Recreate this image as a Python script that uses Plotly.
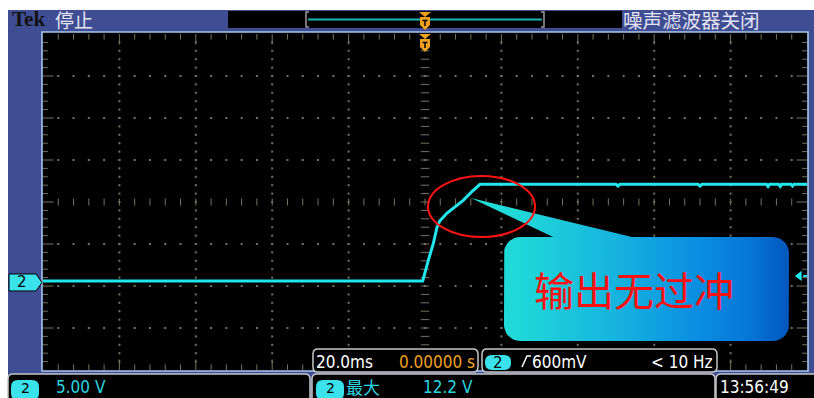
import numpy as np
import plotly.graph_objects as go

W, H = 814, 398

# ---- channel 2 record: time in ms, level in V ----
time_ms = [-100.0, -0.6, 0.9, 2.2, 3.1, 3.8, 5.7, 7.9, 10.0, 12.2, 14.4,
           50.0, 50.5, 51.0, 71.5, 72.0, 72.5, 89.4, 89.8, 90.2,
           92.6, 93.0, 93.4, 95.8, 96.2, 96.6, 100.0]
volts_ch2 = [0.0, 0.0, 2.5, 4.5, 6.3, 7.1, 8.05, 8.85, 9.6, 10.6, 11.5,
             11.5, 11.3, 11.5, 11.5, 11.3, 11.5, 11.5, 11.25, 11.5,
             11.5, 11.25, 11.5, 11.5, 11.3, 11.5, 11.5]

# ---- scope settings ----
ms_per_div = 20.0
volts_per_div = 5.0
n_xdiv, n_ydiv = 10, 8
minor_per_div = 5
ground_div_below_center = 1.88
trigger_time_ms = 0.0
trigger_level_v = 0.6

# ---- readouts ----
status_label = "停止"
filter_label = "噪声滤波器关闭"
timebase_label = "20.0ms"
trig_pos_label = "0.00000 s"
trig_level_label = "600mV"
trig_freq_label = "< 10 Hz"
ch_label = "2"
ch2_scale_label = "5.00 V"
meas_name = "最大"
meas_value = "12.2 V"
clock_label = "13:56:49"
callout_label = "输出无过冲"

# ---- styling ----
BLUE = "#3f4d92"
FRAME = "#a6c6ee"
GRID = "#74745e"
TRACE = "#22e6ee"
CYAN_TXT = "#2ad6e0"
BADGE = "#3ae2ec"
ORANGE = "#f0a020"
PANEL_LINE = "#c6c6c6"
NARROW = "Liberation Sans Narrow, DejaVu Sans Condensed, Arial Narrow, sans-serif"
CJK = "Noto Sans CJK SC"

# screen rectangle in pixels
SX0, SX1, SY0, SY1 = 43, 807, 34, 370

x_lo = -ms_per_div * n_xdiv / 2
x_hi = -x_lo
y_center = ground_div_below_center * volts_per_div
y_lo = y_center - volts_per_div * n_ydiv / 2
y_hi = y_center + volts_per_div * n_ydiv / 2


def t_to_px(t):
    return SX0 + (t - x_lo) / (x_hi - x_lo) * (SX1 - SX0)


def v_to_py(v):
    return SY0 + (y_hi - v) / (y_hi - y_lo) * (SY1 - SY0)


def px(x):
    return x / W


def py(y):
    return 1 - y / H


shapes = []
annotations = []


def P(x, y):
    return f"{px(x):.5f},{py(y):.5f}"


def add_rect(x0, y0, x1, y1, fill, line=None, lw=0, layer="below"):
    shapes.append(dict(type="rect", xref="paper", yref="paper",
                       x0=px(x0), x1=px(x1), y0=py(y1), y1=py(y0),
                       fillcolor=fill, layer=layer,
                       line=dict(color=line or "rgba(0,0,0,0)", width=lw)))


def rr_path(x0, y0, x1, y1, r):
    return (f"M{P(x0 + r, y0)} L{P(x1 - r, y0)} Q{P(x1, y0)} {P(x1, y0 + r)} "
            f"L{P(x1, y1 - r)} Q{P(x1, y1)} {P(x1 - r, y1)} L{P(x0 + r, y1)} "
            f"Q{P(x0, y1)} {P(x0, y1 - r)} L{P(x0, y0 + r)} Q{P(x0, y0)} {P(x0 + r, y0)} Z")


def poly_path(pts, close=True):
    s = "M" + " L".join(P(x, y) for x, y in pts)
    return s + (" Z" if close else "")


def add_path(path, fill="rgba(0,0,0,0)", line=None, lw=0, layer="below"):
    shapes.append(dict(type="path", xref="paper", yref="paper", path=path,
                       fillcolor=fill, layer=layer,
                       line=dict(color=line or "rgba(0,0,0,0)", width=lw)))


def label(x, y, text, size, color, family=NARROW, anchor="left", **kw):
    annotations.append(dict(x=x, y=y, xref="x2", yref="y2", text=text,
                            showarrow=False, xanchor=anchor, yanchor="middle",
                            font=dict(size=size, color=color, family=family), **kw))


# ---- instrument frame ----
add_rect(8, 10, 814, 398, BLUE)
add_rect(228, 11, 622, 28, "black")
add_rect(SX0 - 1, SY0 - 2, SX1 + 1, SY1 + 1, "black", FRAME, 1.6)

# record overview bar
add_path(poly_path([(309, 12), (306, 12), (306, 27), (309, 27)], close=False),
         line="#9a9aa6", lw=1.5)
add_path(poly_path([(541, 12), (544, 12), (544, 27), (541, 27)], close=False),
         line="#9a9aa6", lw=1.5)
add_path(poly_path([(308, 19.5), (542, 19.5)], close=False), line="#1fb4b8", lw=2)

# ---- bottom readout panels ----
add_rect(8, 372, 814, 398, BLUE)
add_path(rr_path(8, 374, 310, 406, 5), "black", PANEL_LINE, 1.5, layer="above")
add_path(rr_path(312, 374, 715, 406, 5), "black", PANEL_LINE, 1.5, layer="above")
add_path(rr_path(716, 374, 822, 406, 5), "black", PANEL_LINE, 1.5, layer="above")
add_path(rr_path(313, 349, 478, 372, 5), "black", PANEL_LINE, 1.5, layer="above")
add_path(rr_path(482, 349, 717, 372, 5), "black", PANEL_LINE, 1.5, layer="above")

for bx0, by0, bx1, by1 in [(485, 355, 511, 370), (11, 380, 39, 400), (316, 380, 344, 400)]:
    add_path(rr_path(bx0, by0, bx1, by1, 7), BADGE, layer="above")

# rising-edge trigger glyph
add_path(poly_path([(522, 367), (527, 356), (531, 356)], close=False),
         line="white", lw=1.5, layer="above")

# ---- trigger position markers (top) ----
tx = t_to_px(trigger_time_ms)
for top in (12, 34):
    add_path(poly_path([(tx - 6, top), (tx + 6, top), (tx, top + 5)]), ORANGE, layer="above")
    add_path(poly_path([(tx - 5, top + 5), (tx + 5, top + 5), (tx + 5, top + 13),
                        (tx, top + 18), (tx - 5, top + 13)]), ORANGE, layer="above")
    add_path(poly_path([(tx - 2.5, top + 8.5), (tx + 2.5, top + 8.5)], close=False),
             line="black", lw=1.5, layer="above")
    add_path(poly_path([(tx, top + 8.5), (tx, top + 14)], close=False),
             line="black", lw=1.5, layer="above")

# ---- channel 2 ground marker (left) ----
gy = v_to_py(0.0) + 1.5
add_path(poly_path([(9, gy - 8.5), (36, gy - 8.5), (42, gy), (36, gy + 8.5), (9, gy + 8.5)]),
         BADGE, "black", 1, layer="above")
label(22, gy, ch_label, 15, "black", family="DejaVu Sans", anchor="center")

# ---- callout ellipse ----
shapes.append(dict(type="circle", xref="paper", yref="paper", layer="above",
                   x0=px(428), x1=px(535), y0=py(237), y1=py(176),
                   line=dict(color="#ff1414", width=2)))

# ---- texts ----
label(10, 19, "<b>Tek</b>", 21, "#111111", family="Liberation Serif")
label(53, 19, status_label, 19, "#e4e4f4", family=CJK)
label(621, 19, filter_label, 19.5, "#e4e4f4", family=CJK)
label(314, 362, timebase_label, 17, "white")
label(477, 362, trig_pos_label, 17, ORANGE, anchor="right")
label(498, 363, ch_label, 15, "black", family="DejaVu Sans", anchor="center")
label(530, 362, trig_level_label, 17, "white")
label(715, 362, trig_freq_label, 17, "white", anchor="right")
label(25, 388, ch_label, 14, "black", family="DejaVu Sans", anchor="center")
label(54, 387, ch2_scale_label, 17, CYAN_TXT)
label(330, 388, ch_label, 14, "black", family="DejaVu Sans", anchor="center")
label(344, 386, meas_name, 17, CYAN_TXT, family=CJK)
label(421, 387, meas_value, 17, CYAN_TXT)
label(718, 387, clock_label, 17, "white")
label(634, 289, callout_label, 40, "#ff1010", family=CJK, anchor="center")

fig = go.Figure()

# ---- graticule ----
dx = ms_per_div / minor_per_div
dy = volts_per_div / minor_per_div
ix = np.arange(1, n_xdiv * minor_per_div)
iy = np.arange(1, n_ydiv * minor_per_div)
minor_x = x_lo + dx * ix
minor_y = y_lo + dy * iy
cx_div, cy_div = n_xdiv // 2, n_ydiv // 2

dots_x, dots_y = [], []
for k in range(1, n_ydiv):
    if k == cy_div:
        continue
    yv = y_lo + volts_per_div * k
    dots_x += list(minor_x)
    dots_y += [yv] * len(minor_x)
for k in range(1, n_xdiv):
    if k == cx_div:
        continue
    xv = x_lo + ms_per_div * k
    dots_x += [xv] * len(minor_y)
    dots_y += list(minor_y)
fig.add_trace(go.Scatter(x=dots_x, y=dots_y, mode="markers", hoverinfo="skip",
                         marker=dict(symbol="square", size=2, color=GRID,
                                     line=dict(width=0))))


def tick_trace(xs, ys, symbol, size):
    fig.add_trace(go.Scatter(x=xs, y=ys, mode="markers", hoverinfo="skip",
                             marker=dict(symbol=symbol, size=size,
                                         line=dict(width=1, color=GRID))))


minor_only_x = minor_x[ix % minor_per_div != 0]
major_x = minor_x[ix % minor_per_div == 0]
minor_only_y = minor_y[iy % minor_per_div != 0]
major_y = minor_y[iy % minor_per_div == 0]

# edge ticks
for yv in (y_lo, y_hi):
    tick_trace(minor_only_x, [yv] * len(minor_only_x), "line-ns", 8)
    tick_trace(major_x, [yv] * len(major_x), "line-ns", 15)
for xv in (x_lo, x_hi):
    tick_trace([xv] * len(minor_only_y), minor_only_y, "line-ew", 7)
    tick_trace([xv] * len(major_y), major_y, "line-ew", 15)
# centre cross ticks
tick_trace(minor_x, [y_center] * len(minor_x), "line-ns", 5)
tick_trace([0.0] * len(minor_y), minor_y, "line-ew", 6)

# ---- waveform ----
fig.add_trace(go.Scatter(x=time_ms, y=volts_ch2, mode="lines", hoverinfo="skip",
                         line=dict(color=TRACE, width=3)))

# trigger level arrow on the right edge
fig.add_trace(go.Scatter(x=[x_hi - 1.0, x_hi], y=[trigger_level_v, trigger_level_v],
                         mode="lines", hoverinfo="skip",
                         line=dict(color=TRACE, width=2)))
fig.add_trace(go.Scatter(x=[x_hi - 2.0], y=[trigger_level_v], mode="markers",
                         hoverinfo="skip",
                         marker=dict(symbol="triangle-left", size=9, color=TRACE)))

# ---- callout bubble (pixel axes) ----
bx0, by0, bx1, by1, br = 504, 237, 789, 341, 16
tip = (471, 198)
wedge = (553, 632)


def arc(cx, cy, a0, a1, n=10):
    a = np.radians(np.linspace(a0, a1, n))
    return list(zip(cx + br * np.cos(a), cy + br * np.sin(a)))


pts = [(bx0 + br, by0), (wedge[0], by0), tip, (wedge[1], by0)]
pts += arc(bx1 - br, by0 + br, -90, 0)
pts += arc(bx1 - br, by1 - br, 0, 90)
pts += arc(bx0 + br, by1 - br, 90, 180)
pts += arc(bx0 + br, by0 + br, 180, 270)
cxs, cys = zip(*pts)
fig.add_trace(go.Scatter(
    x=list(cxs), y=list(cys), xaxis="x2", yaxis="y2", mode="lines",
    fill="toself", hoverinfo="skip", line=dict(width=0, color="rgba(0,0,0,0)"),
    fillgradient=dict(type="horizontal",
                      colorscale=[[0.0, "#22e0d8"], [0.15, "#20d8d8"],
                                  [0.45, "#16b4de"], [0.7, "#0a90e2"],
                                  [0.88, "#0676d6"], [1.0, "#0356bc"]])))

fig.update_layout(
    width=W, height=H, margin=dict(l=0, r=0, t=0, b=0),
    paper_bgcolor="white", plot_bgcolor="rgba(0,0,0,0)",
    showlegend=False,
    xaxis=dict(domain=[SX0 / W, SX1 / W], range=[x_lo, x_hi], visible=False,
               fixedrange=True),
    yaxis=dict(domain=[1 - SY1 / H, 1 - SY0 / H], range=[y_lo, y_hi], visible=False,
               fixedrange=True),
    xaxis2=dict(domain=[0, 1], range=[0, W], visible=False, anchor="y2"),
    yaxis2=dict(domain=[0, 1], range=[H, 0], visible=False, anchor="x2"),
    shapes=shapes, annotations=annotations,
)

fig.write_html("out.html")
